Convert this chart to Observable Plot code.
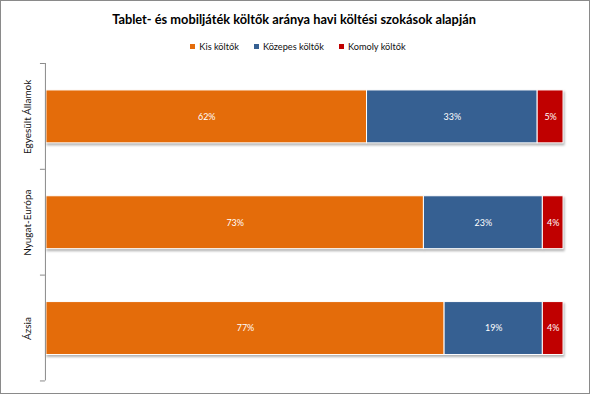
<!DOCTYPE html>
<html>
<head>
<meta charset="utf-8">
<script src="https://cdn.jsdelivr.net/npm/d3@7"></script>
<script src="https://cdn.jsdelivr.net/npm/@observablehq/plot@0.6"></script>
<style>
  html, body { margin: 0; padding: 0; background: #fff; }
  #frame { position: relative; width: 588px; height: 392px; border: 1px solid #8a8a8a; background: #fff; overflow: hidden; font-family: Lato, "Open Sans", sans-serif; }
  #title { position: absolute; left: 0; top: 10px; width: 586px; text-align: center; font-weight: bold; font-size: 12.8px; color: #000; }
  #legend { position: absolute; left: 0; top: 40px; width: 594px; display: flex; justify-content: center; gap: 15px; font-size: 9.2px; color: #111; }
  #legend span.sw { display: inline-block; width: 5px; height: 5px; margin-right: 4px; vertical-align: 1px; }
  #chart { position: absolute; left: -1px; top: 57px; }
</style>
</head>
<body>
<div id="frame">
  <div id="title">Tablet- és mobiljáték költők aránya havi költési szokások alapján</div>
  <div id="legend"></div>
  <div id="chart"></div>
</div>
<script>
const categories = ["Egyesült Államok", "Nyugat-Európa", "Ázsia"];
const seriesNames = ["Kis költők", "Közepes költők", "Komoly költők"];
const kisKoltok = [62, 73, 77];
const kozepesKoltok = [33, 23, 19];
const komolyKoltok = [5, 4, 4];
const seriesColors = ["#E46C0A", "#366092", "#C00000"];

const seriesValues = [kisKoltok, kozepesKoltok, komolyKoltok];
const rows = [];
categories.forEach((c, i) => {
  seriesNames.forEach((s, j) => rows.push({category: c, series: s, value: seriesValues[j][i]}));
});

// legend
const legend = document.getElementById("legend");
seriesNames.forEach((s, j) => {
  const item = document.createElement("div");
  item.innerHTML = `<span class="sw" style="background:${seriesColors[j]}"></span>${s}`;
  legend.appendChild(item);
});

const chart = Plot.plot({
  width: 590,
  height: 333,
  marginTop: 5,
  marginBottom: 10,
  marginLeft: 46,
  marginRight: 26,
  style: {fontFamily: "Lato, 'Open Sans', sans-serif", background: "transparent"},
  x: {domain: [0, 100], axis: null},
  y: {domain: categories, paddingInner: 0.5, paddingOuter: 0.25, axis: null},
  color: {domain: seriesNames, range: seriesColors},
  marks: [
    Plot.barX(rows, {y: "category", x: "value", fill: "series", order: seriesNames, stroke: "#fff", strokeWidth: 1}),
    Plot.text(rows, Plot.stackX({y: "category", x: "value", z: "series", order: seriesNames,
      text: d => d.value + "%", fill: "#fff", fontSize: 9})),
    Plot.text(categories, {y: d => d, frameAnchor: "left", dx: -19, rotate: -90, textAnchor: "middle",
      fontSize: 10, fill: "#111"}),
    Plot.ruleX([0], {stroke: "#8a8a8a", dx: -1})
  ]
});
document.getElementById("chart").appendChild(chart);

// bar shadow
chart.querySelectorAll('g[aria-label="bar"]').forEach(g => {
  g.style.filter = "drop-shadow(1px 2px 1px rgba(0,0,0,0.3))";
});

// category boundary ticks using the library's y scale
const ys = chart.scale("y");
const xs = chart.scale("x");
const x0 = xs.apply(0) - 1;
const half = (ys.step - ys.bandwidth) / 2;
const bounds = categories.map(c => ys.apply(c) - half);
bounds.push(ys.apply(categories[categories.length - 1]) + ys.bandwidth + half);
const svg = d3.select(chart);
svg.append("g").selectAll("line").data(bounds).join("line")
  .attr("x1", x0 - 5).attr("x2", x0).attr("y1", d => d).attr("y2", d => d)
  .attr("stroke", "#8a8a8a");
</script>
</body>
</html>
